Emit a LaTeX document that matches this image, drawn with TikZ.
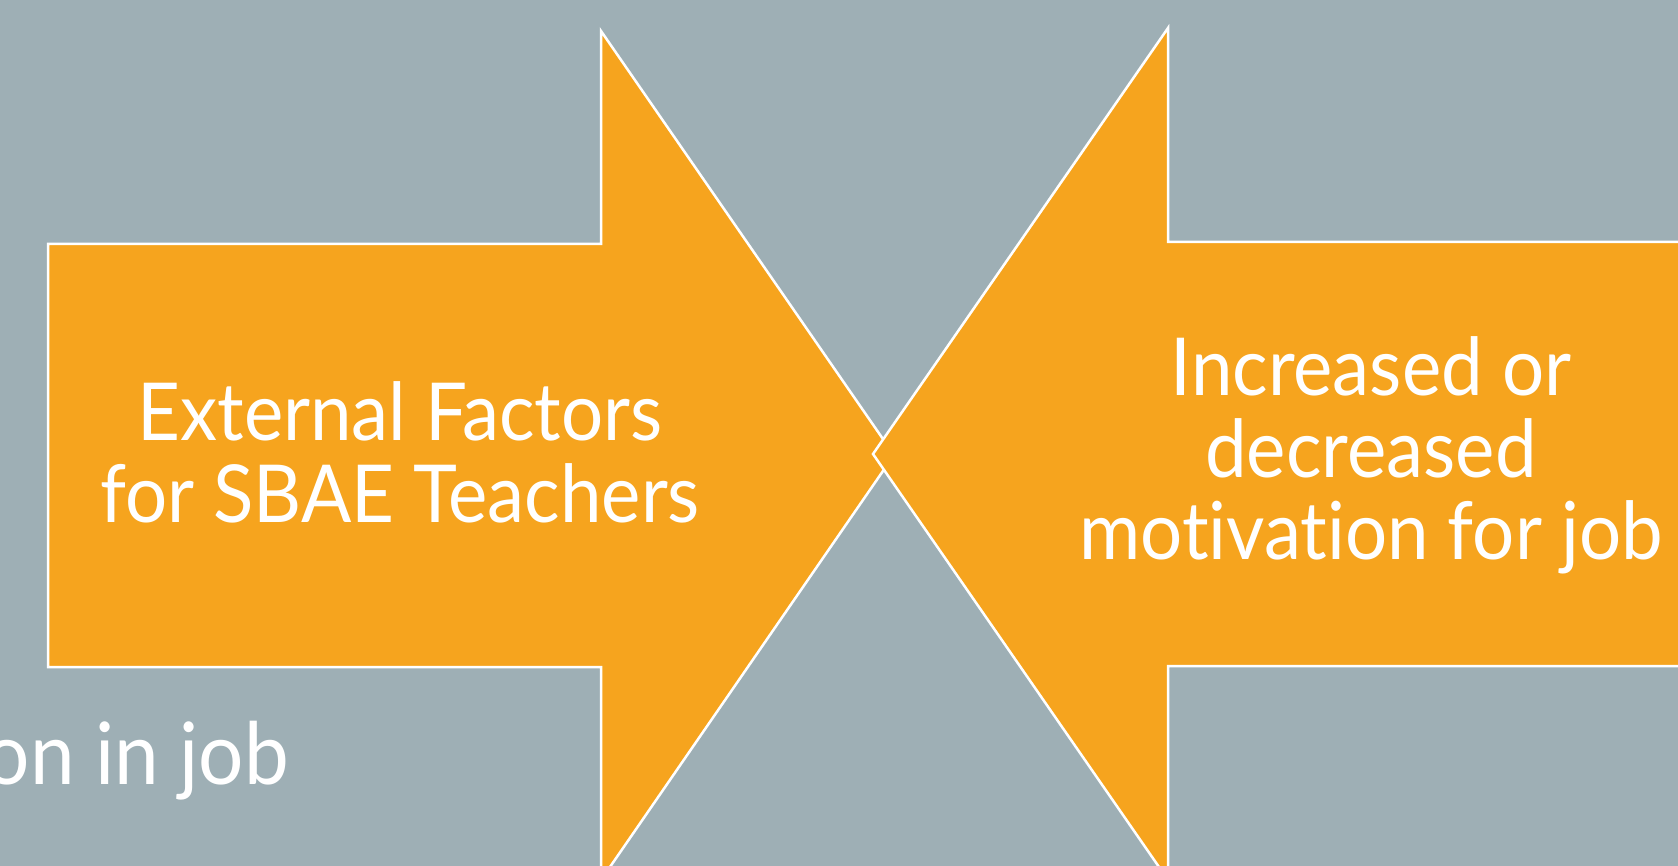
\documentclass[tikz,border=0pt]{standalone}
\usepackage{fontspec}
\setmainfont{Lato}[FakeStretch=0.93, Ligatures=NoCommon]
\usepackage{tikz}
\usetikzlibrary{positioning}

\definecolor{slate}{RGB}{158,175,181}
\definecolor{amber}{RGB}{246,164,30}

\tikzset{
  bigarrow/.style={fill=amber, draw=white, line width=1.25pt, line join=miter},
  arrowtext/.style={text=white, align=center, font=\fontsize{40}{41}\selectfont}
}

\begin{document}
\begin{tikzpicture}[x=0.5pt, y=-0.5pt]
\useasboundingbox (0,0) rectangle (1678,866);
\clip (0,0) rectangle (1678,866);
\fill [slate] (0,0) rectangle (1678,866);

\node [text=white, anchor=base east, font=\fontsize{43}{45}\selectfont] (behind) at (296,784) {on in job};

% left arrow, pointing right
\draw [bigarrow] (48,244) -- (601,244) -- (601,31) -- (894,455)
  -- (601,880) -- (601,667) -- (48,667) -- cycle;

% right arrow, pointing left, on top
\draw [bigarrow] (1720,242) -- (1168,242) -- (1168,28) -- (873,454)
  -- (1168,880) -- (1168,666) -- (1720,666) -- cycle;

\node [arrowtext] (factors) at (400,452) {External Factors\\for SBAE Teachers};
\node [arrowtext] (motivation) at (1371,455) {Increased or\\decreased\\motivation for job};
\end{tikzpicture}
\end{document}
